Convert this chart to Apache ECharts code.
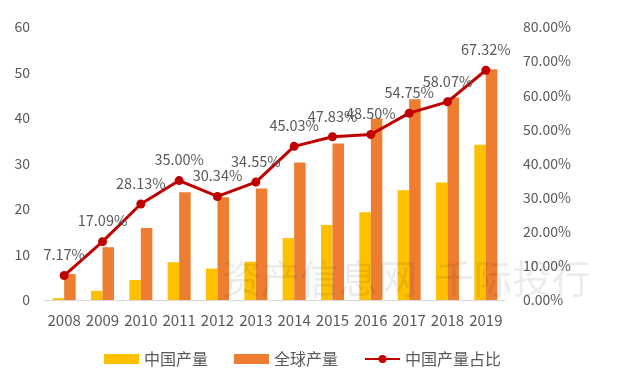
<!DOCTYPE html>
<html><head><meta charset="utf-8">
<script src="https://cdn.jsdelivr.net/npm/echarts@6/dist/echarts.min.js"></script>
<style>html,body{margin:0;padding:0;background:#fff}#c{width:618px;height:379px}</style>
</head><body><div id="c"></div>
<script>
const categories = ['2008','2009','2010','2011','2012','2013','2014','2015','2016','2017','2018','2019'];
const chinaOutput = [0.4, 2.0, 4.4, 8.3, 6.9, 8.4, 13.6, 16.5, 19.3, 24.1, 25.8, 34.1];
const globalOutput = [5.7, 11.6, 15.8, 23.7, 22.6, 24.5, 30.2, 34.4, 39.9, 44.1, 44.5, 50.7];
const chinaShare = [7.17, 17.09, 28.13, 35.00, 30.34, 34.55, 45.03, 47.83, 48.50, 54.75, 58.07, 67.32];
const seriesNames = ['中国产量', '全球产量', '中国产量占比'];

const font = '"Noto Sans CJK SC", "Noto Sans", sans-serif';
const chart = echarts.init(document.getElementById('c'));
chart.setOption({
  animation: false,
  textStyle: { fontFamily: font },
  grid: { left: 45, right: 113, top: 27, bottom: 79 },
  graphic: [{
    type: 'text', left: 222, top: 259, z: 100,
    style: { text: '资产信息网  千际投行', fontSize: 39, fill: 'rgba(0,0,0,0.08)', fontFamily: font }
  }],
  legend: {
    bottom: 7, left: 99, itemGap: 26, itemWidth: 35, itemHeight: 10,
    textStyle: { color: '#595959', fontSize: 16, fontFamily: font },
    data: [
      { name: seriesNames[0], icon: 'rect' },
      { name: seriesNames[1], icon: 'rect' },
      { name: seriesNames[2] }
    ]
  },
  xAxis: {
    type: 'category', data: categories,
    axisLine: { lineStyle: { color: '#D9D9D9' } },
    axisTick: { show: false },
    axisLabel: { color: '#595959', fontSize: 15, margin: 13, interval: 0 }
  },
  yAxis: [{
    type: 'value', min: 0, max: 60, interval: 10,
    splitLine: { show: false },
    axisLabel: { color: '#595959', fontSize: 14, margin: 15 }
  }, {
    type: 'value', min: 0, max: 0.8, interval: 0.1,
    splitLine: { show: false },
    axisLabel: { color: '#595959', fontSize: 14, margin: 18, formatter: v => (v * 100).toFixed(2) + '%' }
  }],
  series: [{
    name: seriesNames[0], type: 'bar', data: chinaOutput, barWidth: 11.5, barGap: '0%',
    itemStyle: { color: '#FFC000' }
  }, {
    name: seriesNames[1], type: 'bar', data: globalOutput, barWidth: 11.5, barGap: '0%',
    itemStyle: { color: '#ED7D31' }
  }, {
    name: seriesNames[2], type: 'line', yAxisIndex: 1, data: chinaShare.map(v => v / 100),
    symbol: 'circle', symbolSize: 9,
    lineStyle: { color: '#C00000', width: 3 }, itemStyle: { color: '#C00000' },
    label: { show: true, position: 'top', distance: 9, color: '#595959', fontSize: 14.5,
      formatter: p => (p.value * 100).toFixed(2) + '%' }
  }]
});
</script></body></html>
